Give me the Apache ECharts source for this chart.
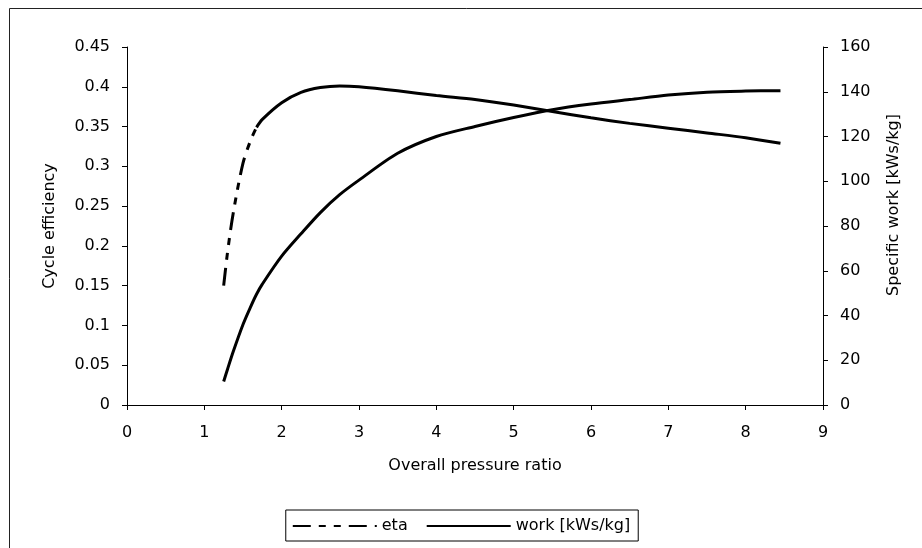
<!DOCTYPE html>
<html>
<head>
<meta charset="utf-8">
<script src="https://cdn.jsdelivr.net/npm/echarts@6/dist/echarts.min.js"></script>
<style>
  html, body { margin: 0; padding: 0; background: #fff; }
  #chart { width: 922px; height: 548px; }
</style>
</head>
<body>
<div id="chart"></div>
<script>
// Overall pressure ratio (x values)
var pressureRatio = [1.25, 1.3, 1.375, 1.5, 1.6, 1.675, 1.75, 2.0, 2.25, 2.5, 2.75, 3.0, 3.5, 4.0, 4.5, 5.0, 5.5, 6.0, 6.5, 7.0, 7.5, 8.0, 8.45];
// Cycle efficiency (left axis)
var eta = [0.150, 0.192, 0.242, 0.304, 0.333, 0.349, 0.359, 0.380, 0.393, 0.399, 0.401, 0.400, 0.395, 0.389, 0.384, 0.377, 0.369, 0.361, 0.354, 0.348, 0.342, 0.336, 0.329];
// Specific work [kWs/kg] (right axis)
var work = [10.5, 16, 24, 36, 44, 49.5, 54, 66.5, 76.5, 86, 94, 100.5, 112.5, 120, 124.5, 128.5, 132, 134.5, 136.5, 138.5, 139.8, 140.3, 140.5];
// index where the visibly dashed part of the eta curve ends
var etaDashEnd = 5;

var FONT = 'DejaVu Sans';
function pairs(xs, ys) { return xs.map(function (x, i) { return [x, ys[i]]; }); }
var etaPts = pairs(pressureRatio, eta);
var workPts = pairs(pressureRatio, work);

var chart = echarts.init(document.getElementById('chart'), null, { renderer: 'canvas' });
var axisCommon = {
  axisLine: { show: true, lineStyle: { color: '#000', width: 1 } },
  axisTick: { show: true, inside: false, length: 5, lineStyle: { color: '#000' } },
  splitLine: { show: false },
  axisLabel: { color: '#000', fontFamily: FONT, fontSize: 16, margin: 17 }
};
chart.setOption({
  backgroundColor: '#fff',
  animation: false,
  textStyle: { fontFamily: FONT },
  grid: { left: 127, right: 99, top: 47, bottom: 143, containLabel: false },
  xAxis: Object.assign({}, axisCommon, {
    type: 'value', min: 0, max: 9, interval: 1,
    name: 'Overall pressure ratio', nameLocation: 'middle', nameGap: 53,
    nameTextStyle: { color: '#000', fontFamily: FONT, fontSize: 16 },
    axisLabel: { color: '#000', fontFamily: FONT, fontSize: 16, margin: 20 }
  }),
  yAxis: [
    Object.assign({}, axisCommon, {
      type: 'value', min: 0, max: 0.45, interval: 0.05, position: 'left',
      name: 'Cycle efficiency', nameLocation: 'middle', nameGap: 69, nameRotate: 90,
      nameTextStyle: { color: '#000', fontFamily: FONT, fontSize: 16 }
    }),
    Object.assign({}, axisCommon, {
      type: 'value', min: 0, max: 160, interval: 20, position: 'right'
    })
  ],
  legend: {
    data: ['eta', 'work [kWs/kg]'],
    left: 'center', top: 510,
    itemWidth: 84, itemHeight: 12, itemGap: 18,
    itemStyle: { opacity: 0 },
    borderColor: '#000', borderWidth: 1, borderRadius: 0,
    padding: [8, 8, 7, 6],
    textStyle: { color: '#000', fontFamily: FONT, fontSize: 16 }
  },
  graphic: [
    { type: 'rect', shape: { x: 9.5, y: 8.5, width: 1000, height: 1000 }, style: { fill: 'none', stroke: '#222', lineWidth: 1 }, silent: true, z: -1 },
    { type: 'text', x: 894, y: 205, rotation: Math.PI / 2,
      style: { text: 'Specific work [kWs/kg]', fill: '#000', font: '16px "DejaVu Sans"', align: 'center', verticalAlign: 'middle' } }
  ],
  series: [
    {
      name: 'eta', type: 'line', yAxisIndex: 0, symbol: 'none', smooth: 0.3,
      data: etaPts.slice(0, etaDashEnd + 1),
      lineStyle: { color: '#000', width: 3, type: [18, 8, 7, 8, 7, 8], cap: 'butt' },
      itemStyle: { color: '#000' }
    },
    {
      name: 'eta_cont', type: 'line', yAxisIndex: 0, symbol: 'none', smooth: 0.3,
      data: etaPts.slice(etaDashEnd),
      lineStyle: { color: '#000', width: 3, type: 'solid' },
      itemStyle: { color: '#000' }
    },
    {
      name: 'work [kWs/kg]', type: 'line', yAxisIndex: 1, symbol: 'none', smooth: 0.3,
      data: workPts,
      lineStyle: { color: '#000', width: 3, type: 'solid' },
      itemStyle: { color: '#000' }
    }
  ]
});
</script>
</body>
</html>
